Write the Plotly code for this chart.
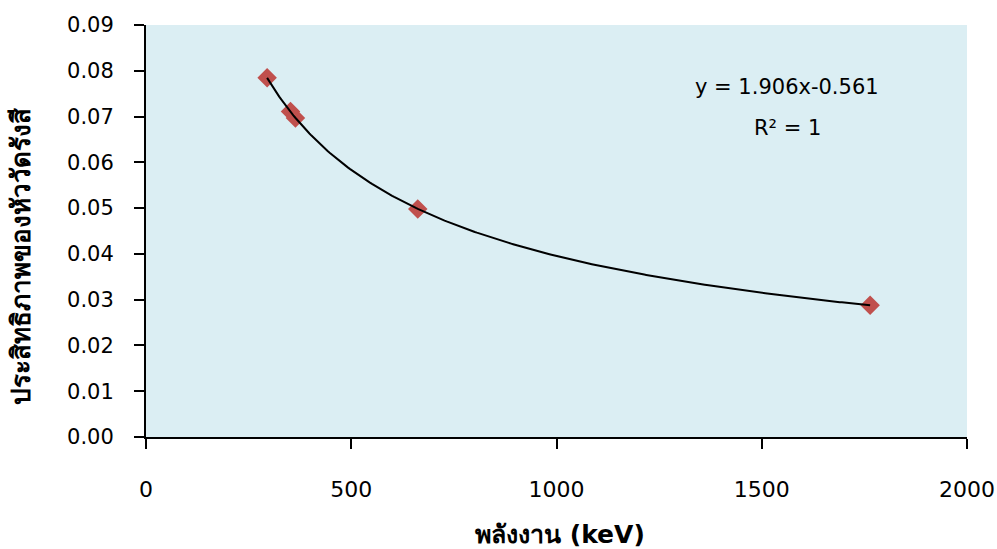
import numpy as np
import plotly.graph_objects as go

energy_kev = [295, 352, 364, 662, 1764]
efficiency = [0.0785, 0.0711, 0.0697, 0.0498, 0.0288]
fit_a = 1.906
fit_b = -0.561
x_ticks = [0, 500, 1000, 1500, 2000]
y_ticks = [0.00, 0.01, 0.02, 0.03, 0.04, 0.05, 0.06, 0.07, 0.08, 0.09]

xf = np.linspace(min(energy_kev), max(energy_kev), 300)
yf = fit_a * xf ** fit_b

fig = go.Figure()
fig.add_trace(go.Scatter(x=energy_kev, y=efficiency, mode="markers",
                         marker=dict(symbol="diamond", size=15, color="#C0504D",
                                     line=dict(width=0)), showlegend=False))
fig.add_trace(go.Scatter(x=xf, y=yf, mode="lines",
                         line=dict(color="black", width=2), showlegend=False))

font_fam = "DejaVu Sans, Noto Sans, sans-serif"
fig.update_layout(
    width=997, height=549,
    margin=dict(l=146, r=30, t=25, b=112, autoexpand=False),
    paper_bgcolor="white", plot_bgcolor="#DBEEF3",
    font=dict(family=font_fam, size=21, color="black"),
    xaxis=dict(range=[0, 2000], tickvals=x_ticks, ticks="outside", ticklen=10,
               tickcolor="black", tickwidth=1.5, showline=True, linecolor="black",
               linewidth=2, showgrid=False, zeroline=False,
               tickfont=dict(size=22), ticklabelstandoff=22),
    yaxis=dict(range=[0, 0.09], tickvals=y_ticks, tickformat=".2f", ticks="outside",
               ticklen=10, tickcolor="black", tickwidth=1.5, showline=True,
               linecolor="black", linewidth=2, showgrid=False, zeroline=False,
               tickfont=dict(size=21), ticklabelstandoff=16),
    annotations=[
        dict(x=0.781, y=0.8495, xref="paper", yref="paper", showarrow=False,
             xanchor="center", yanchor="middle",
             text="y = 1.906x-0.561", font=dict(size=21)),
        dict(x=0.781, y=0.75, xref="paper", yref="paper", showarrow=False,
             xanchor="center", yanchor="middle",
             text="R² = 1", font=dict(size=21)),
        dict(x=0.504, y=-0.236, xref="paper", yref="paper", showarrow=False,
             xanchor="center", yanchor="middle",
             text="<b>พลังงาน (keV)</b>", font=dict(size=25)),
        dict(x=-0.152, y=0.437, xref="paper", yref="paper", showarrow=False,
             xanchor="center", yanchor="middle", textangle=-90,
             text="<b>ประสิทธิภาพของหัววัดรังสี</b>", font=dict(size=26)),
    ],
)
fig.write_html("out.html")
